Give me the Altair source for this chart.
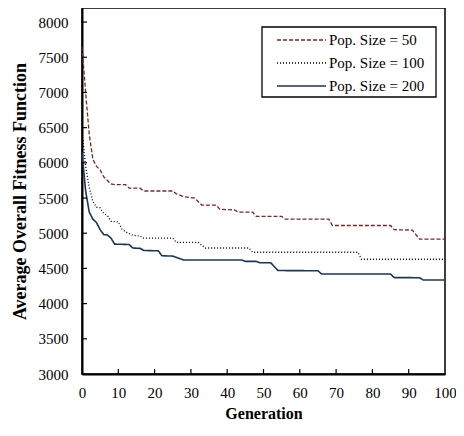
import altair as alt
import pandas as pd

series_names = ["Pop. Size = 50", "Pop. Size = 100", "Pop. Size = 200"]

gen_50 = [0, 1, 2, 3, 4, 5, 6, 7, 8, 9, 12, 13, 16, 17, 25, 26, 28, 31, 32, 33, 37, 38, 42, 43, 47, 48, 55, 56, 68, 69, 85, 86, 91, 93, 100]
val_50 = [7650, 7000, 6400, 6050, 5950, 5900, 5800, 5750, 5700, 5690, 5690, 5640, 5640, 5600, 5600, 5560, 5520, 5500, 5450, 5400, 5400, 5340, 5330, 5300, 5300, 5240, 5240, 5200, 5200, 5110, 5110, 5050, 5045, 4915, 4915]

gen_100 = [0, 1, 2, 3, 4, 5, 6, 7, 8, 10, 11, 12, 14, 16, 17, 25, 26, 32, 34, 46, 47, 76, 77, 100]
val_100 = [6450, 5950, 5650, 5450, 5370, 5360, 5280, 5250, 5170, 5160, 5060, 5020, 4970, 4960, 4930, 4930, 4870, 4870, 4790, 4790, 4730, 4730, 4630, 4630]

gen_200 = [0, 1, 2, 3, 4, 5, 6, 7, 8, 9, 13, 14, 16, 17, 21, 22, 25, 28, 44, 45, 48, 49, 52, 54, 65, 66, 85, 86, 93, 94, 100]
val_200 = [6150, 5600, 5300, 5200, 5150, 5050, 4980, 4975, 4930, 4845, 4840, 4790, 4785, 4755, 4750, 4680, 4675, 4620, 4620, 4600, 4600, 4580, 4580, 4470, 4467, 4420, 4420, 4370, 4368, 4335, 4335]

y_labels = [3000, 3500, 4000, 4500, 5000, 5500, 6000, 6500, 7000, 7500, 8000]
x_labels = [0, 10, 20, 30, 40, 50, 60, 70, 80, 90, 100]

colors = ["#7a2626", "#000000", "#1c3558"]
dashes = [[4, 2], [1, 2], [1, 0]]
widths = [1.3, 1.3, 1.6]

W, H = 363, 366
FONT = "Liberation Serif"

xscale = alt.Scale(domain=[0, 100], nice=False, zero=False)
yscale = alt.Scale(domain=[3000, 8200], nice=False, zero=False)
xaxis = alt.Axis(title="Generation", values=x_labels, format="d", ticks=False, grid=False,
                 labelPadding=11, titlePadding=5, labelFlush=False, labelOverlap=False,
                 labelFontSize=15, titleFontSize=16)
yaxis = alt.Axis(title="Average Overall Fitness Function", values=y_labels, format="d", ticks=False,
                 grid=False, labelPadding=14, titlePadding=9, labelOverlap=False,
                 labelFontSize=15, titleFontSize=18)

layers = []
for i, (g, v) in enumerate([(gen_50, val_50), (gen_100, val_100), (gen_200, val_200)]):
    df = pd.DataFrame({"gen": g, "value": v, "series": series_names[i]})
    layers.append(
        alt.Chart(df).mark_line(color=colors[i], strokeDash=dashes[i], strokeWidth=widths[i]).encode(
            x=alt.X("gen:Q", scale=xscale, axis=xaxis),
            y=alt.Y("value:Q", scale=yscale, axis=yaxis),
        )
    )

# inner tick marks
yt = pd.DataFrame({"value": y_labels[1:]})
layers.append(alt.Chart(yt).mark_rule(color="black", strokeWidth=1.2).encode(
    y=alt.Y("value:Q", scale=yscale, axis=yaxis), x=alt.value(0), x2=alt.value(5)))
xt = pd.DataFrame({"gen": x_labels[1:-1]})
layers.append(alt.Chart(xt).mark_rule(color="black", strokeWidth=1.2).encode(
    x=alt.X("gen:Q", scale=xscale, axis=xaxis), y=alt.value(H), y2=alt.value(H - 5)))

# legend box
box = pd.DataFrame({"k": [0]})
layers.append(alt.Chart(box).mark_rect(fill="white", stroke="black", strokeWidth=1.3).encode(
    x=alt.value(180), x2=alt.value(354), y=alt.value(19), y2=alt.value(89)))
for i, name in enumerate(series_names):
    ld = pd.DataFrame({"label": [name]})
    yy = 32 + 23 * i
    layers.append(alt.Chart(ld).mark_rule(color=colors[i], strokeDash=dashes[i], strokeWidth=widths[i]).encode(
        x=alt.value(195), x2=alt.value(244), y=alt.value(yy)))
    layers.append(alt.Chart(ld).mark_text(font=FONT, fontSize=15, align="left", baseline="middle", color="black").encode(
        text="label:N", x=alt.value(247), y=alt.value(yy)))

chart = alt.layer(*layers).properties(
    width=W, height=H,
    background="white",
    autosize=alt.AutoSizeParams(type="none"),
    padding={"left": 74, "top": 0, "right": 11, "bottom": 54},
).configure_view(
    stroke="black", strokeWidth=1.5
).configure_axis(
    domainColor="black", domainWidth=2,
    labelFont=FONT, labelColor="black",
    titleFont=FONT, titleFontWeight="bold", titleColor="black",
)

chart.save("out.html", embed_options={"renderer": "svg", "actions": False})
